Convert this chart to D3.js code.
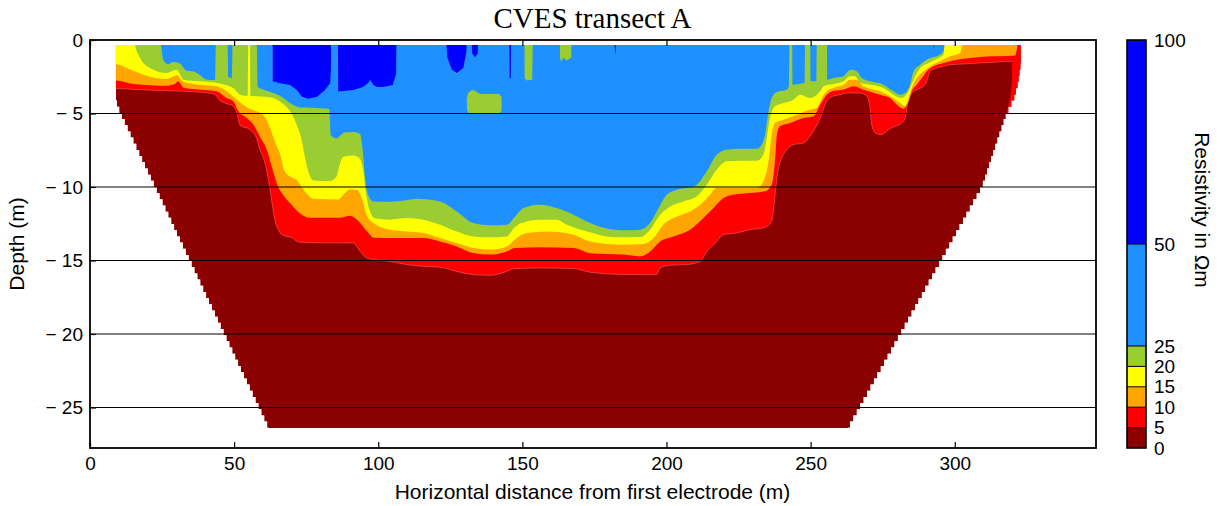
<!DOCTYPE html>
<html>
<head>
<meta charset="utf-8">
<script src="https://cdn.jsdelivr.net/npm/d3@7"></script>
<style>
  body { margin: 0; background: #fff; }
  text { font-family: "Liberation Sans", Arial, sans-serif; fill: #000; }
</style>
</head>
<body>
<svg id="chart" width="1220" height="506"></svg>
<script>
// ---------- axis ticks and colour classes ----------
const xTicks = [0, 50, 100, 150, 200, 250, 300];
const yTicks = [0, -5, -10, -15, -20, -25];
const classLimits = [0, 5, 10, 15, 20, 25, 50, 100];              // resistivity class edges (Ωm)
const classColors = ["#8b0000", "#ff0000", "#ffa500", "#ffff00", "#9acd32", "#1e90ff", "#0000ff"];

// ---------- section outline: [distance m, depth m] ----------
const surfaceDepth = 0.34;
const bottomDepth = 26.4;
const leftFlank  = [[9.0, 0.34], [9.0, 4.15], [10.6, 5.0], [62.0, 26.4]];
const rightFlank = [[322.9, 0.34], [322.9, 1.7], [321.9, 3.0], [320.7, 3.9], [318.0, 5.0], [309.4, 10.0], [263.0, 26.4]];

// ---------- iso-resistivity interfaces: [distance m, depth m] ----------
// depth 0 means the class reaches the surface at that distance
const contour5 = [[8, 3.3], [9.0, 3.3], [15.0, 3.36], [26.6, 3.45], [38.2, 3.55], [43.4, 3.7], [44.5, 4.0], [46.3, 4.25],
  [49.7, 4.5], [50.9, 4.95], [52.1, 5.8], [55.5, 6.1], [57.8, 6.7], [59.0, 7.5], [60.1, 8.0], [61.3, 8.9], [62.3, 10.0],
  [63.4, 11.4], [64.2, 12.3], [65.3, 12.9], [67.1, 13.3], [70.0, 13.45], [72.5, 13.75], [80, 13.8], [91.4, 13.81],
  [93.7, 14.38], [96.0, 14.83], [98.3, 14.94], [104.1, 15.06], [109.9, 15.28], [115.7, 15.40], [121.4, 15.46],
  [127.2, 15.74], [133.0, 15.96], [138.8, 16.01], [144.6, 15.74], [146.9, 15.56], [156.1, 15.51], [167.7, 15.55],
  [173.5, 15.8], [185.1, 15.95], [196.6, 15.96], [197.8, 15.51], [201.3, 15.33], [207.0, 15.28], [211.7, 15.06],
  [214.0, 14.38], [217.4, 13.70], [219.8, 13.24], [224.4, 13.13], [229.0, 12.90], [233.6, 12.79], [236.5, 12.34],
  [237.7, 10.52], [238.3, 9.39], [240.0, 8.03], [241.7, 7.46], [244.0, 7.12], [247.5, 7.01], [249.8, 6.55],
  [253.3, 5.31], [255.6, 4.17], [257.5, 3.85], [260.2, 3.72], [262.6, 3.61], [267.2, 3.61], [269.5, 3.83],
  [270.6, 4.63], [271.2, 5.76], [272.4, 6.33], [274.4, 6.44], [277.0, 6.10], [279.3, 5.87], [281.6, 5.65],
  [282.8, 5.31], [283.6, 4.40], [285.1, 3.61], [286.8, 3.38], [289.2, 3.15], [290.3, 2.81], [291.5, 2.13],
  [293.8, 1.90], [296.1, 1.79], [298.4, 1.68], [303.0, 1.63], [308.8, 1.56], [314.6, 1.50], [318.1, 1.45],
  [321.0, 1.5], [324, 1.5]];

const contour10 = [[8, 2.75], [9.0, 2.75], [15.0, 3.0], [26.6, 3.12], [29.4, 3.0], [30.6, 2.8], [31.8, 3.1], [32.4, 3.25],
  [38.2, 3.38], [43.9, 3.49], [47.4, 3.95], [49.7, 4.17], [51.5, 4.85], [54.4, 5.31], [56.7, 5.76], [59.0, 6.6],
  [61.4, 7.5], [63.3, 8.8], [65.3, 10.0], [67.2, 10.6], [69.4, 11.1], [72.9, 11.8], [76.3, 12.1], [86.7, 12.1],
  [90.2, 11.95], [93.0, 12.3], [96.0, 13.0], [98.5, 13.45], [104.1, 13.47], [115.7, 13.47], [121.4, 13.70],
  [127.2, 14.04], [133.0, 14.49], [138.8, 14.60], [144.6, 14.38], [147.5, 14.15], [156.1, 14.10], [167.7, 14.15],
  [173.5, 14.5], [185.1, 14.60], [190.8, 14.72], [194.3, 14.38], [197.8, 13.70], [202.4, 13.36], [208.2, 12.90],
  [212.8, 12.11], [216.3, 11.43], [219.8, 10.75], [223.2, 10.52], [229.0, 10.41], [234.2, 10.29], [236.5, 9.84],
  [237.7, 8.03], [238.3, 6.44], [239.4, 5.87], [242.9, 5.65], [247.5, 5.31], [251.0, 5.19], [253.3, 4.40],
  [255.6, 3.72], [258.0, 3.45], [261.4, 3.38], [264.9, 3.15], [268.3, 3.38], [274.1, 3.72], [277.6, 3.95],
  [279.9, 4.40], [282.2, 4.67], [284.0, 4.17], [285.1, 3.49], [286.8, 3.04], [288.6, 2.59], [290.3, 2.13],
  [292.6, 1.79], [296.1, 1.56], [300.7, 1.34], [305.3, 1.22], [312.3, 1.11], [318.1, 1.08], [324, 1.0]];

const contour15 = [[8, 1.65], [9.0, 1.65], [12.7, 1.9], [15.0, 2.1], [20.8, 2.5], [23.1, 2.6], [26.6, 2.65], [28.8, 2.5],
  [30.3, 2.38], [31.8, 2.75], [33.5, 2.9], [38.2, 3.04], [43.9, 3.15], [47.4, 3.49], [50.9, 4.06], [53.2, 4.4],
  [55.5, 4.7], [57.8, 4.85], [60.5, 5.2], [62.5, 6.0], [64.3, 7.0], [66.0, 7.8], [67.3, 8.84], [69.5, 9.3],
  [71.7, 9.52], [74.5, 10.3], [77.5, 10.8], [86.0, 10.85], [88.5, 10.4], [90.2, 10.15], [92.7, 10.2], [94.5, 10.9],
  [96.0, 11.9], [98.3, 12.45], [104.1, 12.90], [109.9, 13.02], [115.7, 13.13], [121.4, 13.47], [127.2, 13.81],
  [133.0, 14.15], [138.8, 14.26], [144.6, 14.04], [148.05, 13.47], [151.5, 13.13], [158.5, 13.02], [167.7, 13.24],
  [173.5, 13.70], [185.1, 13.92], [192.0, 13.88], [195.5, 13.47], [198.9, 12.56], [203.6, 12.0], [208.2, 11.66],
  [211.7, 11.20], [215.1, 10.52], [217.4, 10.07], [222.1, 10.07], [231.3, 10.07], [233.6, 9.61], [235.4, 8.25],
  [236.5, 6.44], [237.7, 5.65], [240.6, 5.42], [245.2, 5.08], [249.8, 4.74], [252.1, 4.63], [253.9, 3.95],
  [255.6, 3.49], [258.0, 3.25], [261.4, 3.04], [263.7, 2.70], [266.0, 2.70], [268.3, 3.15], [274.1, 3.49],
  [277.6, 3.83], [281.1, 4.29], [282.8, 4.51], [283.95, 3.95], [285.1, 3.27], [286.8, 2.59], [289.2, 2.13],
  [291.5, 1.79], [294.9, 1.45], [298.4, 1.11], [301.9, 0.88], [303.0, 0], [324, 0]];

const contour20 = [[8, 0], [15.4, 0], [15.6, 0.3], [17.4, 1.22], [20.8, 1.9], [26.6, 2.24], [30.1, 2.02], [32.4, 2.70],
  [38.2, 2.81], [43.9, 2.93], [49.7, 3.27], [52.1, 3.72], [54.7, 3.8], [54.9, 0], [55.5, 0], [55.7, 3.8], [57.8, 3.83],
  [63.6, 3.95], [66.5, 4.29], [69.4, 4.85], [71.7, 5.76], [73.3, 6.7], [74.6, 8.0], [75.8, 9.0], [77.5, 9.55],
  [83.0, 9.6], [85.5, 9.3], [86.6, 8.5], [87.8, 7.95], [91.4, 7.85], [93.7, 8.1], [94.8, 8.9], [96.0, 10.75],
  [97.7, 11.9], [98.5, 12.11], [104.1, 12.22], [109.9, 12.11], [115.7, 12.22], [121.4, 12.56], [127.2, 13.02],
  [133.0, 13.36], [138.8, 13.42], [144.6, 13.36], [147.1, 12.79], [149.6, 12.45], [156.1, 12.22], [161.9, 12.22],
  [165.4, 12.56], [173.5, 13.08], [179.3, 13.36], [185.1, 13.42], [190.8, 13.40], [194.3, 12.90], [197.8, 11.88],
  [201.3, 11.32], [205.9, 10.98], [210.5, 10.63], [214.0, 9.84], [217.4, 8.82], [220.9, 8.25], [225.5, 8.21],
  [231.3, 8.21], [233.6, 7.80], [234.8, 6.67], [235.9, 5.31], [237.7, 4.51], [240.6, 4.29], [244.0, 4.06],
  [246.4, 3.72], [249.8, 3.95], [253.3, 3.49], [254.5, 3.15], [258.0, 3.0], [261.4, 2.81], [263.7, 2.47],
  [265.4, 2.47], [267.2, 2.93], [270.6, 3.04], [275.3, 3.27], [278.7, 3.72], [281.6, 3.95], [283.95, 3.49],
  [285.7, 2.70], [288.0, 1.90], [290.9, 1.56], [293.8, 1.27], [296.1, 1.0], [296.7, 0], [324, 0]];

const contour25 = [[8, 0], [24.3, 0], [24.6, 0.3], [25.4, 1.36], [27.2, 1.65], [28.9, 1.5], [31.2, 1.6], [33.5, 2.1],
  [35.9, 2.15], [38.2, 2.4], [40.5, 2.7], [43.4, 2.72], [43.7, 0], [47.7, 0], [48.0, 2.5], [49.2, 2.6], [49.5, 0],
  [57.8, 0], [58.2, 3.2], [61.3, 3.45], [65.9, 3.8], [69.4, 4.29], [72.9, 4.6], [80.0, 4.65], [83.0, 4.7],
  [83.6, 6.5], [85.5, 6.7], [86.9, 6.5], [88.2, 6.3], [91.4, 6.25], [93.7, 6.4], [94.6, 7.5], [95.5, 9.5],
  [96.6, 10.6], [98.3, 10.98], [104.1, 11.0], [109.9, 10.9], [113.4, 10.8], [121.4, 10.98], [127.2, 11.66],
  [133.0, 12.45], [138.8, 12.6], [144.6, 12.56], [147.5, 12.0], [150.4, 11.43], [156.1, 11.2], [161.9, 11.43],
  [167.7, 11.88], [173.5, 12.45], [179.3, 12.83], [185.1, 12.95], [190.8, 12.90], [194.3, 12.45], [196.6, 11.66],
  [200.1, 10.52], [203.6, 10.18], [208.2, 10.02], [210.5, 9.84], [214.0, 8.93], [217.4, 7.80], [220.9, 7.46],
  [225.5, 7.39], [231.3, 7.39], [233.05, 7.12], [234.2, 6.44], [235.4, 4.85], [236.5, 3.95], [238.3, 3.54],
  [241.7, 3.38], [242.5, 3.1], [242.65, 0], [243.58, 0], [243.7, 3.04], [247.5, 2.93], [247.95, 2.9], [248.09, 0],
  [249.83, 0], [250.0, 2.8], [252.0, 2.8], [252.14, 0], [255.61, 0], [255.8, 2.7], [257.9, 2.59], [261.4, 2.47],
  [263.1, 2.09], [264.3, 2.02], [266.0, 2.13], [267.75, 2.59], [270.6, 2.81], [275.3, 3.04], [278.7, 3.49],
  [281.05, 3.72], [282.8, 3.61], [284.5, 3.04], [285.7, 2.13], [288.0, 1.68], [290.3, 1.34], [291.5, 1.22],
  [293.8, 1.11], [296.1, 0.77], [296.67, 0], [324, 0]];

// ---------- isolated bodies: [distance m, depth m] outlines ----------
const redRim = [[321.7, 0], [323.5, 0], [323.5, 7], [317.5, 5.3], [319.2, 4.0], [319.8, 2.9], [319.9, 1.55], [321.0, 1.1], [321.7, 0.5]];

const greenBodies = [
  [[130.7, 4.0], [131.2, 3.6], [132.5, 3.4], [133.5, 3.45], [135.3, 3.67], [142.0, 3.67], [142.8, 3.9], [142.8, 4.8], [142.2, 5.0], [131.5, 5.0], [130.8, 4.8]],
  [[150.7, 0], [150.8, 2.6], [151.5, 2.75], [153.4, 2.7], [153.6, 0]],
  [[163.1, 0], [163.0, 1.1], [163.4, 1.5], [164.2, 1.2], [165.3, 1.4], [166.9, 1.2], [167.1, 0]]
];

const highBodies = [
  [[63.4, 0], [63.4, 2.8], [66.0, 2.95], [69.4, 3.06], [71.8, 3.4], [73.5, 3.86], [75.7, 4.0], [78.8, 3.86], [81.5, 3.4], [83.3, 2.95], [83.6, 2.0], [83.6, 0]],
  [[86.0, 0], [86.1, 3.5], [91.3, 3.4], [94.7, 3.2], [96.6, 2.9], [97.2, 2.7], [98.3, 3.06], [99.6, 3.2], [101.7, 3.2], [105.0, 3.06], [106.2, 2.3], [106.3, 0]],
  [[123.5, 0], [124.0, 1.2], [125.5, 2.0], [127.2, 2.25], [129.5, 1.9], [130.6, 0.8], [130.7, 0]],
  [[132.4, 0], [132.6, 0.9], [133.6, 1.18], [134.5, 0.9], [134.7, 0]],
  [[145.5, 0], [145.6, 2.6], [146.0, 2.6], [146.1, 0]],
  [[181.9, 0], [182.2, 1.0], [182.6, 0]],
  [[292.6, 0], [292.8, 0.6], [293.0, 0]]
];

// ---------- layout ----------
const svg = d3.select("#chart");
const plot = { left: 90, right: 1096, top: 40, bottom: 448 };
const x = d3.scaleLinear().domain([0, 349]).range([plot.left, plot.right]);
const y = d3.scaleLinear().domain([-27.755, 0]).range([plot.bottom, plot.top]);
const px = d => x(d[0]);
const py = d => y(-d[1]);

// stepped flanks of the inverted section (one step per model row)
const rowHeight = 0.42;
function flankX(edge, d) {
  for (let i = 1; i < edge.length; i++) {
    const [x0, d0] = edge[i - 1], [x1, d1] = edge[i];
    if (d <= d1) return d1 === d0 ? x1 : x0 + (x1 - x0) * (d - d0) / (d1 - d0);
  }
  return edge[edge.length - 1][0];
}
function steppedFlank(edge) {
  const pts = [];
  for (let d = surfaceDepth; d < bottomDepth - 1e-6; d += rowHeight) {
    const d2 = Math.min(d + rowHeight, bottomDepth);
    const xm = flankX(edge, (d + d2) / 2);
    pts.push([xm, d], [xm, d2]);
  }
  return pts;
}
const outline = [...steppedFlank(rightFlank), ...steppedFlank(leftFlank).reverse()];
const outlinePath = d3.line().x(px).y(py).curve(d3.curveLinearClosed)(outline);

svg.append("defs").append("clipPath").attr("id", "section")
  .append("path").attr("d", outlinePath);

const section = svg.append("g").attr("clip-path", "url(#section)");

// lowest class fills the whole section
section.append("path").attr("d", outlinePath).attr("fill", classColors[0]);

// each interface: everything above it belongs to the next class up
const interfaces = [contour5, contour10, contour15, contour20, contour25];
const areaAbove = d3.area().x(px).y0(y(0.6)).y1(py).curve(d3.curveMonotoneX);
interfaces.forEach((profile, i) => {
  section.append("path").attr("d", areaAbove(profile)).attr("fill", classColors[i + 1]);
});

// faint seam along the 5 Ωm interface
section.append("path")
  .attr("d", d3.line().x(px).y(py).curve(d3.curveMonotoneX)(contour5))
  .attr("fill", "none").attr("stroke", "#ff9a9a").attr("stroke-opacity", 0.55).attr("stroke-width", 0.7);

const body = d3.line().x(px).y(py).curve(d3.curveLinearClosed);
section.append("path").attr("d", body(redRim)).attr("fill", classColors[1]);
section.selectAll(".green").data(greenBodies).join("path")
  .attr("d", body).attr("fill", classColors[4]);
section.selectAll(".high").data(highBodies).join("path")
  .attr("d", body).attr("fill", classColors[6]);

// ---------- grid, frame, axes ----------
svg.append("g").selectAll("line").data(yTicks.filter(v => v !== 0)).join("line")
  .attr("x1", plot.left).attr("x2", plot.right)
  .attr("y1", d => y(d)).attr("y2", d => y(d))
  .attr("stroke", "#000").attr("stroke-width", 1);

const fmtDepth = v => v === 0 ? "0" : "\u2212 " + Math.abs(v);

const xAxis = svg.append("g").attr("transform", `translate(0,${plot.bottom})`)
  .call(d3.axisBottom(x).tickValues(xTicks).tickSize(-6).tickPadding(8.5));
const xAxisTop = svg.append("g").attr("transform", `translate(0,${plot.top})`)
  .call(d3.axisTop(x).tickValues(xTicks).tickSize(-6).tickFormat(""));
const yAxis = svg.append("g").attr("transform", `translate(${plot.left},0)`)
  .call(d3.axisLeft(y).tickValues(yTicks).tickSize(-6).tickPadding(7).tickFormat(fmtDepth));

[xAxis, xAxisTop, yAxis].forEach(g => {
  g.select(".domain").remove();
  g.selectAll(".tick line").attr("stroke", "#000").attr("stroke-width", 1.2);
  g.selectAll("text").style("font-family", "'Liberation Sans', Arial, sans-serif").style("font-size", "19px").attr("fill", "#000");
});

svg.append("rect")
  .attr("x", plot.left).attr("y", plot.top)
  .attr("width", plot.right - plot.left).attr("height", plot.bottom - plot.top)
  .attr("fill", "none").attr("stroke", "#000").attr("stroke-width", 1.8);

// ---------- titles ----------
svg.append("text").attr("x", 592.5).attr("y", 28).attr("text-anchor", "middle")
  .style("font-family", "'Liberation Serif', 'Times New Roman', serif").style("font-size", "29px")
  .text("CVES transect A");

svg.append("text").attr("x", 592.5).attr("y", 499).attr("text-anchor", "middle")
  .style("font-size", "21px").text("Horizontal distance from first electrode (m)");

svg.append("text").attr("transform", "translate(24,244) rotate(-90)").attr("text-anchor", "middle")
  .style("font-size", "21px").text("Depth (m)");

// ---------- colour bar ----------
const bar = { left: 1127, right: 1146 };
const c = d3.scaleLinear().domain([0, 100]).range([plot.bottom, plot.top]);
const barBands = d3.pairs(classLimits).map((p, i) => ({ lo: p[0], hi: p[1], color: classColors[i] }));

const cb = svg.append("g");
cb.selectAll("rect").data(barBands).join("rect")
  .attr("x", bar.left).attr("width", bar.right - bar.left)
  .attr("y", d => c(d.hi)).attr("height", d => c(d.lo) - c(d.hi))
  .attr("fill", d => d.color);
cb.selectAll("line").data(classLimits.slice(1, -1)).join("line")
  .attr("x1", bar.left).attr("x2", bar.right)
  .attr("y1", d => c(d)).attr("y2", d => c(d))
  .attr("stroke", "#000").attr("stroke-width", 1);
cb.append("rect").attr("x", bar.left).attr("y", c(100))
  .attr("width", bar.right - bar.left).attr("height", c(0) - c(100))
  .attr("fill", "none").attr("stroke", "#000").attr("stroke-width", 1.6);

const cAxis = svg.append("g").attr("transform", `translate(${bar.right},0)`)
  .call(d3.axisRight(c).tickValues(classLimits).tickSize(0).tickPadding(8));
cAxis.select(".domain").remove();
cAxis.selectAll("text").style("font-family", "'Liberation Sans', Arial, sans-serif").style("font-size", "19px").attr("fill", "#000");

svg.append("text").attr("transform", "translate(1195,210) rotate(90)").attr("text-anchor", "middle")
  .style("font-size", "21px").text("Resistivity in \u03a9m");
</script>
</body>
</html>
